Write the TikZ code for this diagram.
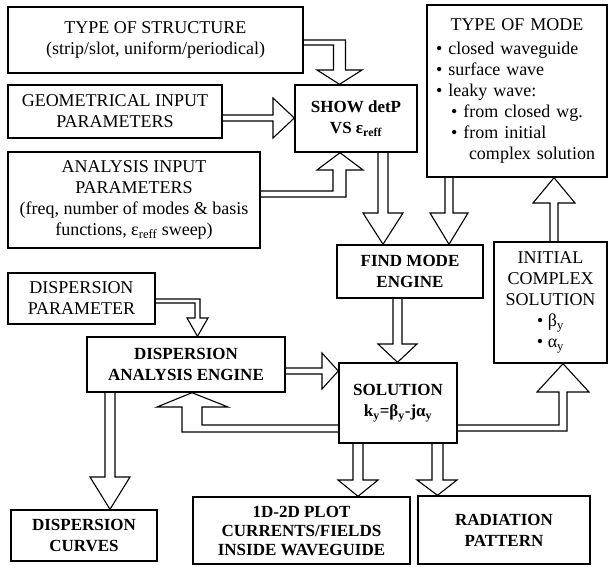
\documentclass[tikz,border=0pt]{standalone}
\usepackage{fontspec}
\setmainfont{Liberation Serif}
\usetikzlibrary{backgrounds}

\begin{document}
\begin{tikzpicture}[x=1pt, y=-1pt,
	box/.style={draw, line width=1.4pt, inner sep=3pt, align=center,
			font=\fontsize{18}{21}\selectfont},
	bold/.style={box, font=\fontsize{17}{21}\selectfont\bfseries},
	fat/.style={draw, fill=white, line width=1.1pt, line join=miter}]
		\useasboundingbox (0,0) rectangle (613,567);
		\node[box, minimum width=295pt, minimum height=66pt] (ts) at (155.5,40) {TYPE OF STRUCTURE\\(strip/slot, uniform/periodical)};
		\node[box, minimum width=214pt, minimum height=53pt] (geo) at (115,111.5) {GEOMETRICAL INPUT\\PARAMETERS};
		\node[box, minimum width=252pt, minimum height=96pt] (ana) at (134,200) {ANALYSIS INPUT\\PARAMETERS\\(freq, number of modes \& basis\\functions, ε\textsubscript{reff} sweep)};
		\node[bold, minimum width=122pt, minimum height=67pt] (show) at (356,118.5) {SHOW detP\\VS ε\textsubscript{reff}};
		\node[box, minimum width=180pt, minimum height=172pt, text width=162pt, align=left] (mode) at (517,91) {\makebox[162pt][c]{TYPE OF MODE}\\[3pt]
			• closed waveguide\\
			• surface wave\\
			• leaky wave:\\
			\hspace*{15pt}• from closed wg.\\
			\hspace*{15pt}• from initial\\
			\hspace*{33pt}complex solution};
		\node[bold, minimum width=146pt, minimum height=53pt] (find) at (410,271.5) {FIND MODE\\ENGINE};
		\node[box, minimum width=113pt, minimum height=121pt] (init) at (550.5,302.5) {INITIAL\\COMPLEX\\SOLUTION\\• β\textsubscript{y}\\• α\textsubscript{y}};
		\node[box, minimum width=147pt, minimum height=51pt] (dpar) at (81.5,298.5) {DISPERSION\\PARAMETER};
		\node[bold, minimum width=198pt, minimum height=55pt] (dae) at (186,364.5) {DISPERSION\\ANALYSIS ENGINE};
		\node[bold, minimum width=118pt, minimum height=80pt] (sol) at (398,403) {SOLUTION\\k\textsubscript{y}=β\textsubscript{y}-jα\textsubscript{y}};
		\node[bold, minimum width=146pt, minimum height=51pt] (curv) at (84,535.5) {DISPERSION\\CURVES};
		\node[bold, minimum width=217pt, minimum height=67pt, font=\fontsize{17}{19}\selectfont\bfseries] (plot) at (301.5,530.5) {1D-2D PLOT\\CURRENTS/FIELDS\\INSIDE WAVEGUIDE};
		\node[bold, minimum width=172pt, minimum height=68pt] (rad) at (504,530) {RADIATION\\PATTERN};
		\begin{scope}[on background layer]
			\filldraw[fat] (ts.east |- 0,40) -- (345.5,40) -- (345.5,70) -- (362,70) -- (show.north -| 339.5,0) -- (317,70) -- (333.5,70) -- (333.5,45) -- (ts.east |- 0,45);
			\filldraw[fat] (geo.east |- 0,115) -- (273,115) -- (273,98) -- (show.west |- 0,118) -- (273,138) -- (273,121) -- (geo.east |- 0,121);
			\filldraw[fat] (ana.east |- 0,191) -- (333,191) -- (333,170) -- (317,170) -- (show.south -| 340,0) -- (363,170) -- (346,170) -- (346,197) -- (ana.east |- 0,197);
			\filldraw[fat] (show.south -| 378,0) -- (378,213) -- (363,213) -- (find.north -| 383,0) -- (403,213) -- (388,213) -- (show.south -| 388,0);
			\filldraw[fat] (mode.south -| 445,0) -- (445,213) -- (430,213) -- (find.north -| 449,0) -- (468,213) -- (453,213) -- (mode.south -| 453,0);
			\filldraw[fat] (find.south -| 393,0) -- (393,344) -- (378,344) -- (sol.north -| 397.5,0) -- (417,344) -- (402,344) -- (find.south -| 402,0);
			\filldraw[fat] (init.north -| 550,0) -- (550,203) -- (533,203) -- (mode.south -| 554,0) -- (575,203) -- (558,203) -- (init.north -| 558,0);
			\filldraw[fat] (sol.east |- 0,425) -- (559,425) -- (559,392) -- (537,392) -- (init.south -| 563,0) -- (589,392) -- (567,392) -- (567,431) -- (sol.east |- 0,431);
			\filldraw[fat] (dpar.east |- 0,299) -- (200,299) -- (200,318) -- (208,318) -- (dae.north -| 197.5,0) -- (187,318) -- (195,318) -- (195,303) -- (dpar.east |- 0,303);
			\filldraw[fat] (dae.east |- 0,368) -- (322,368) -- (322,353) -- (sol.west |- 0,371) -- (322,389) -- (322,374) -- (dae.east |- 0,374);
			\filldraw[fat] (sol.west |- 0,425) -- (202,425) -- (202,407) -- (228,407) -- (dae.south -| 192,0) -- (157,407) -- (182,407) -- (182,432) -- (sol.west |- 0,432);
			\filldraw[fat] (dae.south -| 105,0) -- (105,477) -- (90,477) -- (curv.north -| 110,0) -- (130,477) -- (115,477) -- (dae.south -| 115,0);
			\filldraw[fat] (sol.south -| 353,0) -- (353,480) -- (338,480) -- (plot.north -| 358,0) -- (378,480) -- (363,480) -- (sol.south -| 363,0);
			\filldraw[fat] (sol.south -| 432,0) -- (432,480) -- (417,480) -- (rad.north -| 437.5,0) -- (457,480) -- (443,480) -- (sol.south -| 443,0);
		\end{scope}
	\end{tikzpicture}
\end{document}
